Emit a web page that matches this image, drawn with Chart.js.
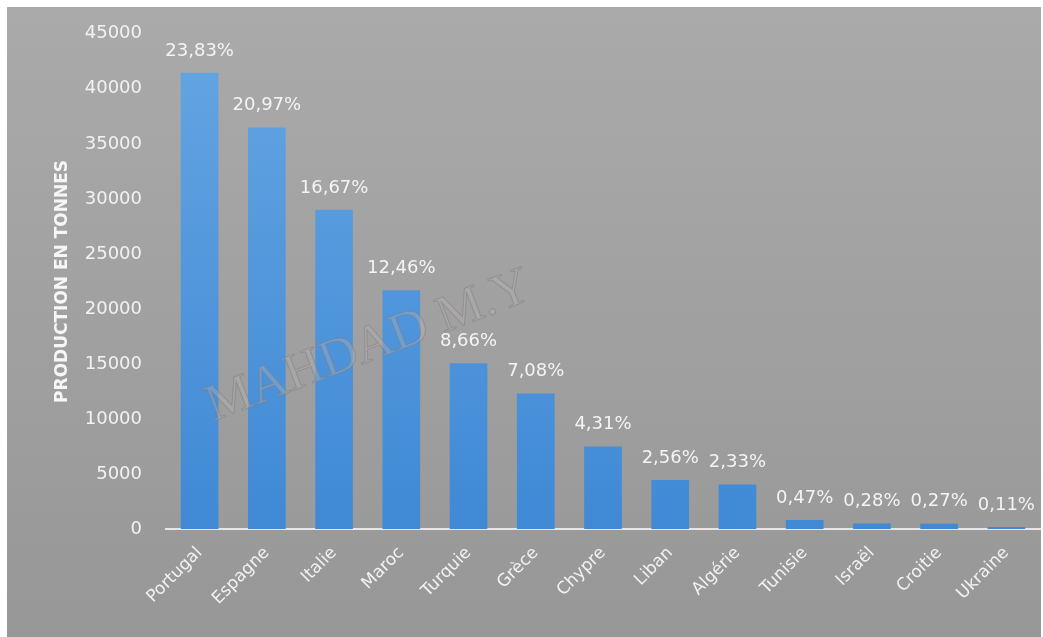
<!DOCTYPE html>
<html>
<head>
<meta charset="utf-8">
<script src="https://cdn.jsdelivr.net/npm/chart.js@4.4.1/dist/chart.umd.min.js"></script>
<style>
  html, body { margin: 0; padding: 0; background: #ffffff; }
  #wrap {
    position: absolute; left: 7px; top: 7px; width: 1034px; height: 630px;
    background: linear-gradient(#aaaaaa, #979797);
  }
</style>
</head>
<body>
<div id="wrap"><canvas id="idChart"></canvas></div>
<script>
    const pays = ['Portugal', 'Espagne', 'Italie', 'Maroc', 'Turquie', 'Grèce', 'Chypre',
                  'Liban', 'Algérie', 'Tunisie', 'Israël', 'Croitie', 'Ukraine'];
    const production = [41450, 36480, 29000, 21700, 15070, 12320, 7500,
                        4450, 4050, 820, 490, 470, 190];
    const pourcentages = ['23,83%', '20,97%', '16,67%', '12,46%', '8,66%', '7,08%', '4,31%',
                          '2,56%', '2,33%', '0,47%', '0,28%', '0,27%', '0,11%'];
    const yTitle = 'PRODUCTION EN TONNES';
    const watermark = 'MAHDAD M.Y';

    const fontName = "'DejaVu Sans', sans-serif";

    // blue gradient for each bar
    function barColor(context) {
        var chart = context.chart;
        var area = chart.chartArea;
        if (!area) return '#5b9bd5';
        var g = chart.ctx.createLinearGradient(0, area.top, 0, area.bottom);
        g.addColorStop(0, '#65a5e3');
        g.addColorStop(1, '#3f89d5');
        return g;
    }

    // percentage labels above the bars
    var labelsPlugin = {
        id: 'pctLabels',
        afterDatasetsDraw: function (chart) {
            var ctx = chart.ctx;
            var meta = chart.getDatasetMeta(0);
            ctx.save();
            ctx.font = '18px ' + fontName;
            ctx.fillStyle = '#f4f4f4';
            ctx.textAlign = 'center';
            ctx.textBaseline = 'bottom';
            meta.data.forEach(function (bar, i) {
                ctx.fillText(pourcentages[i], bar.x, bar.y - 13);
            });
            ctx.restore();
        }
    };

    // watermark text
    var watermarkPlugin = {
        id: 'watermark',
        afterDraw: function (chart) {
            var ctx = chart.ctx;
            ctx.save();
            ctx.translate(362, 340);
            ctx.rotate(-21 * Math.PI / 180);
            ctx.font = '52px "Liberation Serif", "DejaVu Serif", serif';
            ctx.textAlign = 'center';
            ctx.textBaseline = 'middle';
            ctx.fillStyle = 'rgba(185, 180, 180, 0.35)';
            ctx.fillText(watermark, 0, 0);
            ctx.lineWidth = 1;
            ctx.strokeStyle = 'rgba(130, 125, 125, 0.55)';
            ctx.strokeText(watermark, 0, 0);
            ctx.restore();
        }
    };

    var data = {
        labels: pays,
        datasets: [{
            label: 'Production',
            data: production,
            backgroundColor: barColor,
            borderWidth: 0,
            barPercentage: 0.56,
            categoryPercentage: 1.0
        }]
    };

    var options = {
        responsive: true,
        maintainAspectRatio: false,
        animation: false,
        layout: { padding: { top: 20, right: 1, left: 0, bottom: 0 } },
        plugins: {
            legend: { display: false },
            tooltip: { enabled: false }
        },
        scales: {
            x: {
                grid: { display: false },
                border: { display: true, color: '#e6e6e6', width: 2 },
                ticks: {
                    color: '#f2f2f2',
                    font: { family: fontName, size: 17 },
                    minRotation: 45,
                    maxRotation: 45,
                    padding: 6
                },
                afterFit: function (scale) { scale.height = 108; }
            },
            y: {
                min: 0,
                max: 45000,
                grid: { display: false },
                border: { display: false },
                ticks: {
                    stepSize: 5000,
                    color: '#f2f2f2',
                    font: { family: fontName, size: 18 },
                    padding: 16,
                    callback: function (value) { return String(value); }
                },
                title: {
                    display: true,
                    text: yTitle,
                    color: '#f6f6f6',
                    font: { family: fontName, size: 17, weight: 'bold' },
                    padding: { top: 45, bottom: 0 }
                },
                afterFit: function (scale) { scale.width = 159; }
            }
        }
    };

    var ctx = document.getElementById('idChart').getContext('2d');
    var idChart = new Chart(ctx, {
        type: 'bar',
        data: data,
        options: options,
        plugins: [labelsPlugin, watermarkPlugin]
    });
</script>
</body>
</html>
